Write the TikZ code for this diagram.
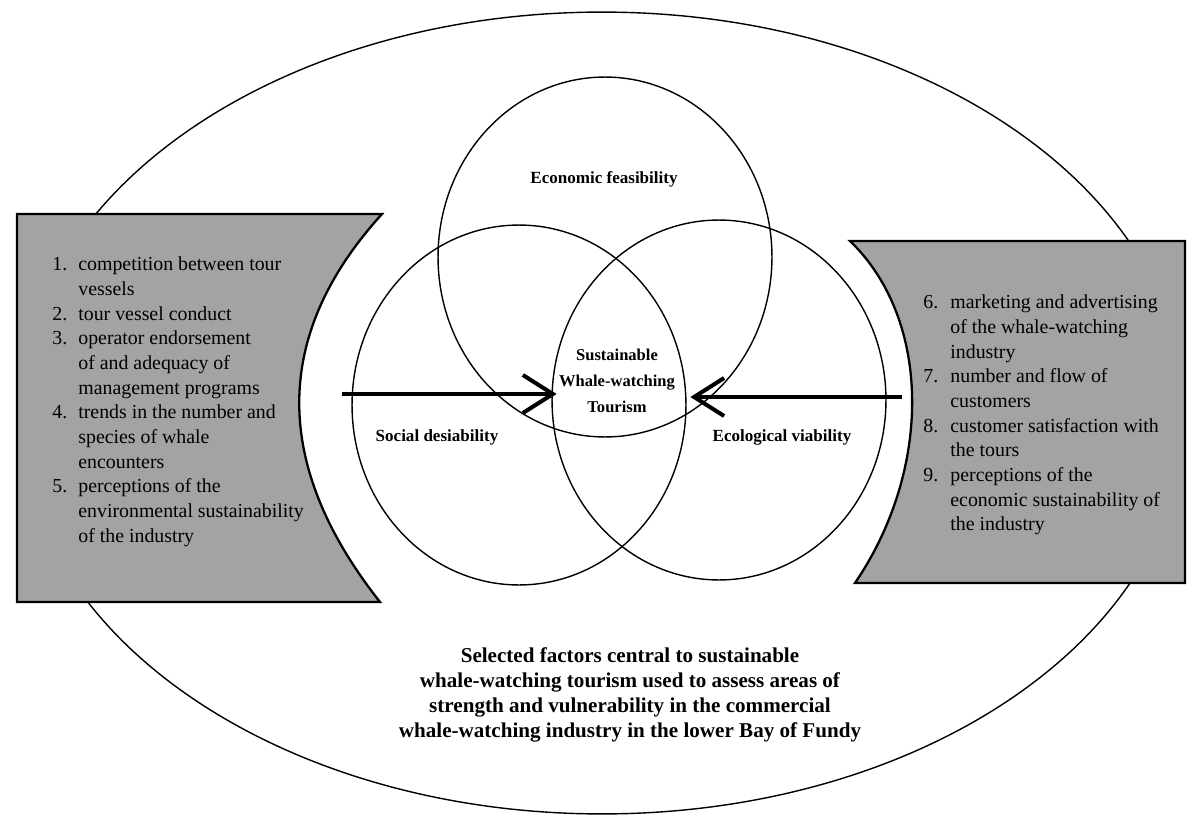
\documentclass[tikz,border=0pt]{standalone}
\usepackage{fontspec}
\setmainfont{Liberation Serif}
\usetikzlibrary{arrows.meta,shapes.geometric}

\begin{document}
\begin{tikzpicture}[x=0.02cm,y=-0.02cm,
  ring/.style={draw, ellipse, line width=0.8pt, inner sep=0pt,
               minimum width=6.68cm, minimum height=7.2cm},
  panel/.style={draw, line width=1.3pt, fill=black!36, line join=miter},
  lbl/.style={font=\bfseries\fontsize{9.7}{12}\selectfont, inner sep=0pt},
  listtext/.style={anchor=north west, inner sep=0pt,
                   font=\fontsize{11.3}{14.05}\selectfont},
  push/.style={line width=2.3pt, -{Straight Barb[length=6mm,width=7.6mm]}}]

\useasboundingbox (0,0) rectangle (1194,818);

% enclosing ellipse
\node[draw, ellipse, line width=0.8pt, inner sep=0pt,
      minimum width=23.32cm, minimum height=16.04cm] (outer) at (602,413) {};

% shaded side panels with concave inner edges
\draw[panel] (17,214) -- (382,214)
  .. controls (272,335) and (272,465) .. (380,602) -- (17,602) -- cycle;
\draw[panel] (850,241) -- (1185,241) -- (1185,583) -- (855,583)
  .. controls (932,470) and (932,320) .. (850,241) -- cycle;

% the three overlapping circles
\node[ring] (econ) at (605,257) {};
\node[ring] (soc)  at (519,405) {};
\node[ring] (eco)  at (719,400) {};

\node[lbl] (econlbl) at (604,179) {Economic feasibility};
\node[lbl] (soclbl)  at (437,437) {Social desiability};
\node[lbl] (ecolbl)  at (782,437) {Ecological viability};

\node[lbl, align=center, minimum width=2.4cm,
      font=\bfseries\fontsize{9.4}{15}\selectfont] (core) at (617,381)
  {Sustainable\\Whale-watching\\Tourism};

% factor lists
\node[listtext] (leftlist) at (52,253) {%
\begin{tabular}{@{}p{14.8pt}@{}l@{}}
1. & competition between tour\\
   & vessels\\
2. & tour vessel conduct\\
3. & operator endorsement\\
   & of and adequacy of\\
   & management programs\\
4. & trends in the number and\\
   & species of whale\\
   & encounters\\
5. & perceptions of the\\
   & environmental sustainability\\
   & of the industry
\end{tabular}};

\node[listtext] (rightlist) at (923,291) {%
\begin{tabular}{@{}p{15.4pt}@{}l@{}}
6. & marketing and advertising\\
   & of the whale-watching\\
   & industry\\
7. & number and flow of\\
   & customers\\
8. & customer satisfaction with\\
   & the tours\\
9. & perceptions of the\\
   & economic sustainability of\\
   & the industry
\end{tabular}};

% arrows pointing into the centre
\coordinate (lstart) at (342,394);
\coordinate (rstart) at (902,397);
\draw[push] (lstart) -- (lstart -| core.west);
\draw[push] (rstart) -- ([xshift=0.26cm]rstart -| core.east);

% caption
\node[font=\bfseries\fontsize{12}{14.2}\selectfont, align=center] (caption) at (630,695)
  {Selected factors central to sustainable\\
   whale-watching tourism used to assess areas of\\
   strength and vulnerability in the commercial\\
   whale-watching industry in the lower Bay of Fundy};

\end{tikzpicture}
\end{document}
